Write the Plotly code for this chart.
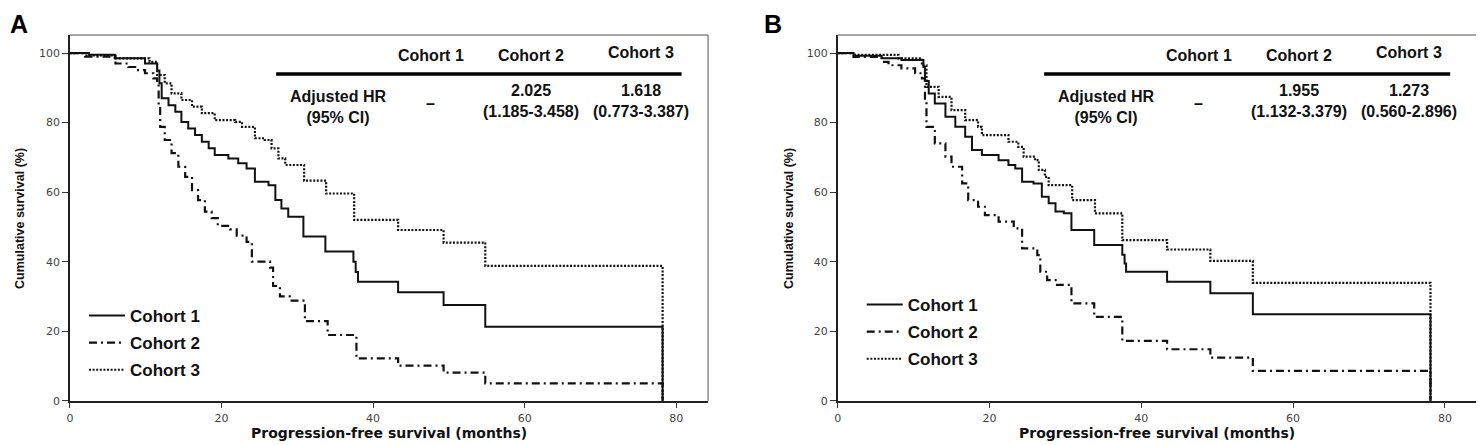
import plotly.graph_objects as go

# ---- Panel A: Kaplan-Meier curves (months, % surviving) ----
a_c1_t = [0, 2.5, 5.9, 9.9, 11.5, 11.8, 12.1, 13.0, 13.9, 14.7, 15.6, 16.5, 17.4, 18.3, 19.1, 20.9,
          22.2, 23.3, 24.4, 26.2, 27.1, 27.9, 28.8, 30.8, 33.7, 37.4, 37.7, 38.0, 43.3, 49.3, 54.8, 78.2]
a_c1_s = [100, 99.5, 98.5, 97, 95, 91.3, 87, 85, 83.1, 80.2, 78.3, 76.4, 74.5, 72.6, 70.7, 69.7,
          68.3, 66.8, 63, 62, 57.7, 55.3, 52.9, 47.2, 42.9, 40, 37, 34.2, 31.2, 27.5, 21.3, 0]

a_c2_t = [0, 2.0, 6.0, 7.7, 8.6, 9.9, 11.0, 11.5, 11.7, 11.9, 12.5, 13.4, 14.3, 15.2, 16.1, 16.9,
          17.8, 18.7, 19.5, 21.1, 22.0, 23.3, 24.0, 26.4, 26.8, 27.7, 29.0, 31.0, 34.0, 37.8,
          43.3, 49.3, 54.8, 78.2]
a_c2_s = [100, 99.0, 97.0, 96.0, 95.1, 94.2, 92.7, 91.7, 84.6, 78.8, 75.0, 71.2, 67.3, 64.4, 60.6, 57.7,
          54.4, 52.5, 50.3, 49.3, 47.5, 45.7, 40.0, 38.3, 33.0, 30.0, 28.8, 22.9, 18.9, 12.2,
          10.1, 8.1, 5.0, 0]

a_c3_t = [0, 2.0, 6.0, 10.5, 11.5, 12.5, 13.4, 14.7, 16.1, 17.4, 19.1, 21.8, 22.7, 24.4, 25.7, 26.6,
          27.5, 28.4, 30.9, 33.8, 37.5, 43.3, 49.3, 54.8, 78.2]
a_c3_s = [100, 99.3, 98.5, 97.5, 93.7, 91.3, 88.4, 86.5, 84.6, 82.7, 80.7, 80.2, 78.8, 75.5, 75.0, 72.6,
          69.7, 67.8, 63.3, 59.6, 52.0, 49.1, 45.5, 38.8, 0]

# ---- Panel B ----
b_c1_t = [0, 2.1, 5.8, 8.4, 11.3, 11.5, 12.0, 12.8, 14.2, 15.5, 16.8, 17.7, 19.0, 21.2, 22.5, 23.4,
          24.3, 25.8, 26.9, 27.8, 28.7, 29.8, 30.8, 33.8, 37.5, 37.8, 38.0, 43.4, 49.1, 54.7, 78.1]
b_c1_s = [100, 99.2, 98.5, 98.0, 96.0, 92.0, 88.4, 85.5, 81.7, 78.8, 75.9, 72.1, 70.7, 69.2, 67.8, 66.8,
          63.0, 62.5, 58.7, 56.8, 54.4, 53.9, 49.1, 44.8, 42.0, 39.5, 37.1, 34.2, 30.9, 24.9, 0]

b_c2_t = [0, 2.1, 5.8, 6.7, 8.4, 10.2, 11.1, 11.5, 11.7, 12.8, 14.2, 15.0, 16.4, 17.2, 18.5, 19.4,
          21.2, 23.2, 24.3, 26.3, 26.7, 27.6, 28.9, 30.8, 33.8, 37.5, 43.4, 49.1, 54.7, 78.1]
b_c2_s = [100, 98.9, 97.5, 96.5, 95.6, 94.2, 92.7, 86.5, 78.8, 74.0, 70.2, 67.3, 62.5, 57.7, 55.8, 53.4,
          51.5, 49.6, 43.8, 41.9, 37.1, 34.7, 33.3, 28.0, 24.1, 17.2, 14.8, 12.4, 8.6, 0]

b_c3_t = [0, 2.0, 8.0, 11.1, 11.7, 13.3, 15.0, 16.8, 18.5, 19.0, 22.5, 23.8, 24.5, 26.0, 26.5, 27.3,
          27.8, 30.9, 33.9, 37.5, 43.4, 49.1, 54.7, 78.1]
b_c3_s = [100, 99.5, 98.5, 96.5, 90.3, 87.4, 83.6, 80.7, 78.8, 76.4, 74.5, 73.0, 70.2, 69.2, 66.4, 64.4,
          62.0, 57.7, 53.9, 46.2, 43.5, 40.2, 33.9, 0]

cohorts = ["Cohort 1", "Cohort 2", "Cohort 3"]
hr_a = ["\u2013", "2.025<br>(1.185-3.458)", "1.618<br>(0.773-3.387)"]
hr_b = ["\u2013", "1.955<br>(1.132-3.379)", "1.273<br>(0.560-2.896)"]

styles = {
    "Cohort 1": dict(color="#111111", width=2, dash="solid"),
    "Cohort 2": dict(color="#111111", width=2.2, dash="8px,4px,2px,4px"),
    "Cohort 3": dict(color="#111111", width=2.2, dash="2px,1.6px"),
}

panels = [
    ("x", "y", "legend", "a", [(a_c1_t, a_c1_s), (a_c2_t, a_c2_s), (a_c3_t, a_c3_s)]),
    ("x2", "y2", "legend2", "b", [(b_c1_t, b_c1_s), (b_c2_t, b_c2_s), (b_c3_t, b_c3_s)]),
]

fig = go.Figure()
for xa, ya, leg, tag, curves in panels:
    # draw dotted first, solid last so it sits on top
    for i in [2, 1, 0]:
        t, s = curves[i]
        fig.add_trace(go.Scatter(
            x=t, y=s, mode="lines", line_shape="hv",
            name=cohorts[i], line=styles[cohorts[i]],
            xaxis=xa, yaxis=ya, legend=leg, legendgroup=tag + str(i),
            legendrank=i + 1, hoverinfo="skip",
        ))

axis_common = dict(
    showgrid=False, zeroline=False, showline=True, linecolor="#222222", linewidth=1.5,
    ticks="outside", ticklen=6, tickwidth=1.2, tickcolor="#333333", automargin=False,
    tickfont=dict(family="DejaVu Sans", size=11, color="#444444"),
)
xr = [0, 84.2]
yr = [0, 105.2]
y_dom = [0.1014, 0.9382]

legend_font = dict(family="Liberation Sans", size=17, color="#111111", weight="bold")

# page body has an 8px margin, so the figure is 8px smaller than the window
fig.update_layout(
    width=1476, height=437,
    margin=dict(l=0, r=0, t=0, b=0, autoexpand=False),
    paper_bgcolor="white", plot_bgcolor="white",
    xaxis=dict(domain=[0.0420, 0.4743], range=xr, tickvals=[0, 20, 40, 60, 80], anchor="y", **axis_common),
    yaxis=dict(domain=y_dom, range=yr, tickvals=[0, 20, 40, 60, 80, 100], anchor="x", **axis_common),
    xaxis2=dict(domain=[0.5621, 0.9951], range=xr, tickvals=[0, 20, 40, 60, 80], anchor="y2", **axis_common),
    yaxis2=dict(domain=y_dom, range=yr, tickvals=[0, 20, 40, 60, 80, 100], anchor="x2", **axis_common),
    legend=dict(x=0.0515, y=0.3364, xanchor="left", yanchor="top", bgcolor="rgba(0,0,0,0)",
                font=legend_font, itemwidth=36, tracegroupgap=2, traceorder="grouped"),
    legend2=dict(x=0.5784, y=0.3616, xanchor="left", yanchor="top", bgcolor="rgba(0,0,0,0)",
                 font=legend_font, itemwidth=36, tracegroupgap=2, traceorder="grouped"),
    showlegend=True,
)

shapes = []
annotations = []
table_font = dict(family="Liberation Sans", size=16, color="#111111", weight="bold")
col_x = [47.6, 60.8, 75.3]
for xa, ya, hr, label, lab_x, ytitle_x in [("x", "y", hr_a, "A", 0.0, 0.0081),
                                          ("x2", "y2", hr_b, "B", 0.5108, 0.5291)]:
    # grey frame on top and right
    shapes.append(dict(type="line", xref=xa + " domain", yref=ya + " domain", x0=0, x1=1, y0=1, y1=1,
                       line=dict(color="#8a8a8a", width=1.5)))
    shapes.append(dict(type="line", xref=xa + " domain", yref=ya + " domain", x0=1, x1=1, y0=0, y1=1,
                       line=dict(color="#8a8a8a", width=1.5)))
    # table rule
    shapes.append(dict(type="line", xref=xa, yref=ya, x0=27.2, x1=80.7, y0=94.0, y1=94.0,
                       line=dict(color="#000000", width=3.5)))
    for j, c in enumerate(cohorts):
        annotations.append(dict(xref=xa, yref=ya, x=col_x[j], y=99.3 if j < 2 else 100.1, text=c,
                                showarrow=False, font=table_font, xanchor="center", yanchor="middle"))
        annotations.append(dict(xref=xa, yref=ya, x=col_x[j], y=85.6 if j == 0 else 86.2, text=hr[j],
                                showarrow=False, font=table_font, xanchor="center", yanchor="middle"))
    annotations.append(dict(xref=xa, yref=ya, x=35.3, y=84.4, text="Adjusted HR<br>(95% CI)",
                            showarrow=False, font=table_font, xanchor="center", yanchor="middle"))
    # panel letter
    annotations.append(dict(xref="paper", yref="paper", x=lab_x, y=1.0, text=label, showarrow=False,
                            xanchor="left", yanchor="top",
                            font=dict(family="Liberation Sans", size=25, color="#000000", weight="bold")))
    # axis titles
    annotations.append(dict(xref="paper", yref="paper", x=ytitle_x, y=0.5195, text="Cumulative survival (%)",
                            textangle=-90, showarrow=False, xanchor="center", yanchor="middle",
                            font=dict(family="Liberation Sans", size=12.5, color="#111111", weight="bold")))
    annotations.append(dict(xref=xa + " domain", yref="paper", x=0.5, y=0.0275,
                            text="Progression-free survival (months)", showarrow=False,
                            xanchor="center", yanchor="middle",
                            font=dict(family="DejaVu Sans", size=14, color="#111111", weight="bold")))

fig.update_layout(shapes=shapes, annotations=annotations)

fig.write_html("out.html")
